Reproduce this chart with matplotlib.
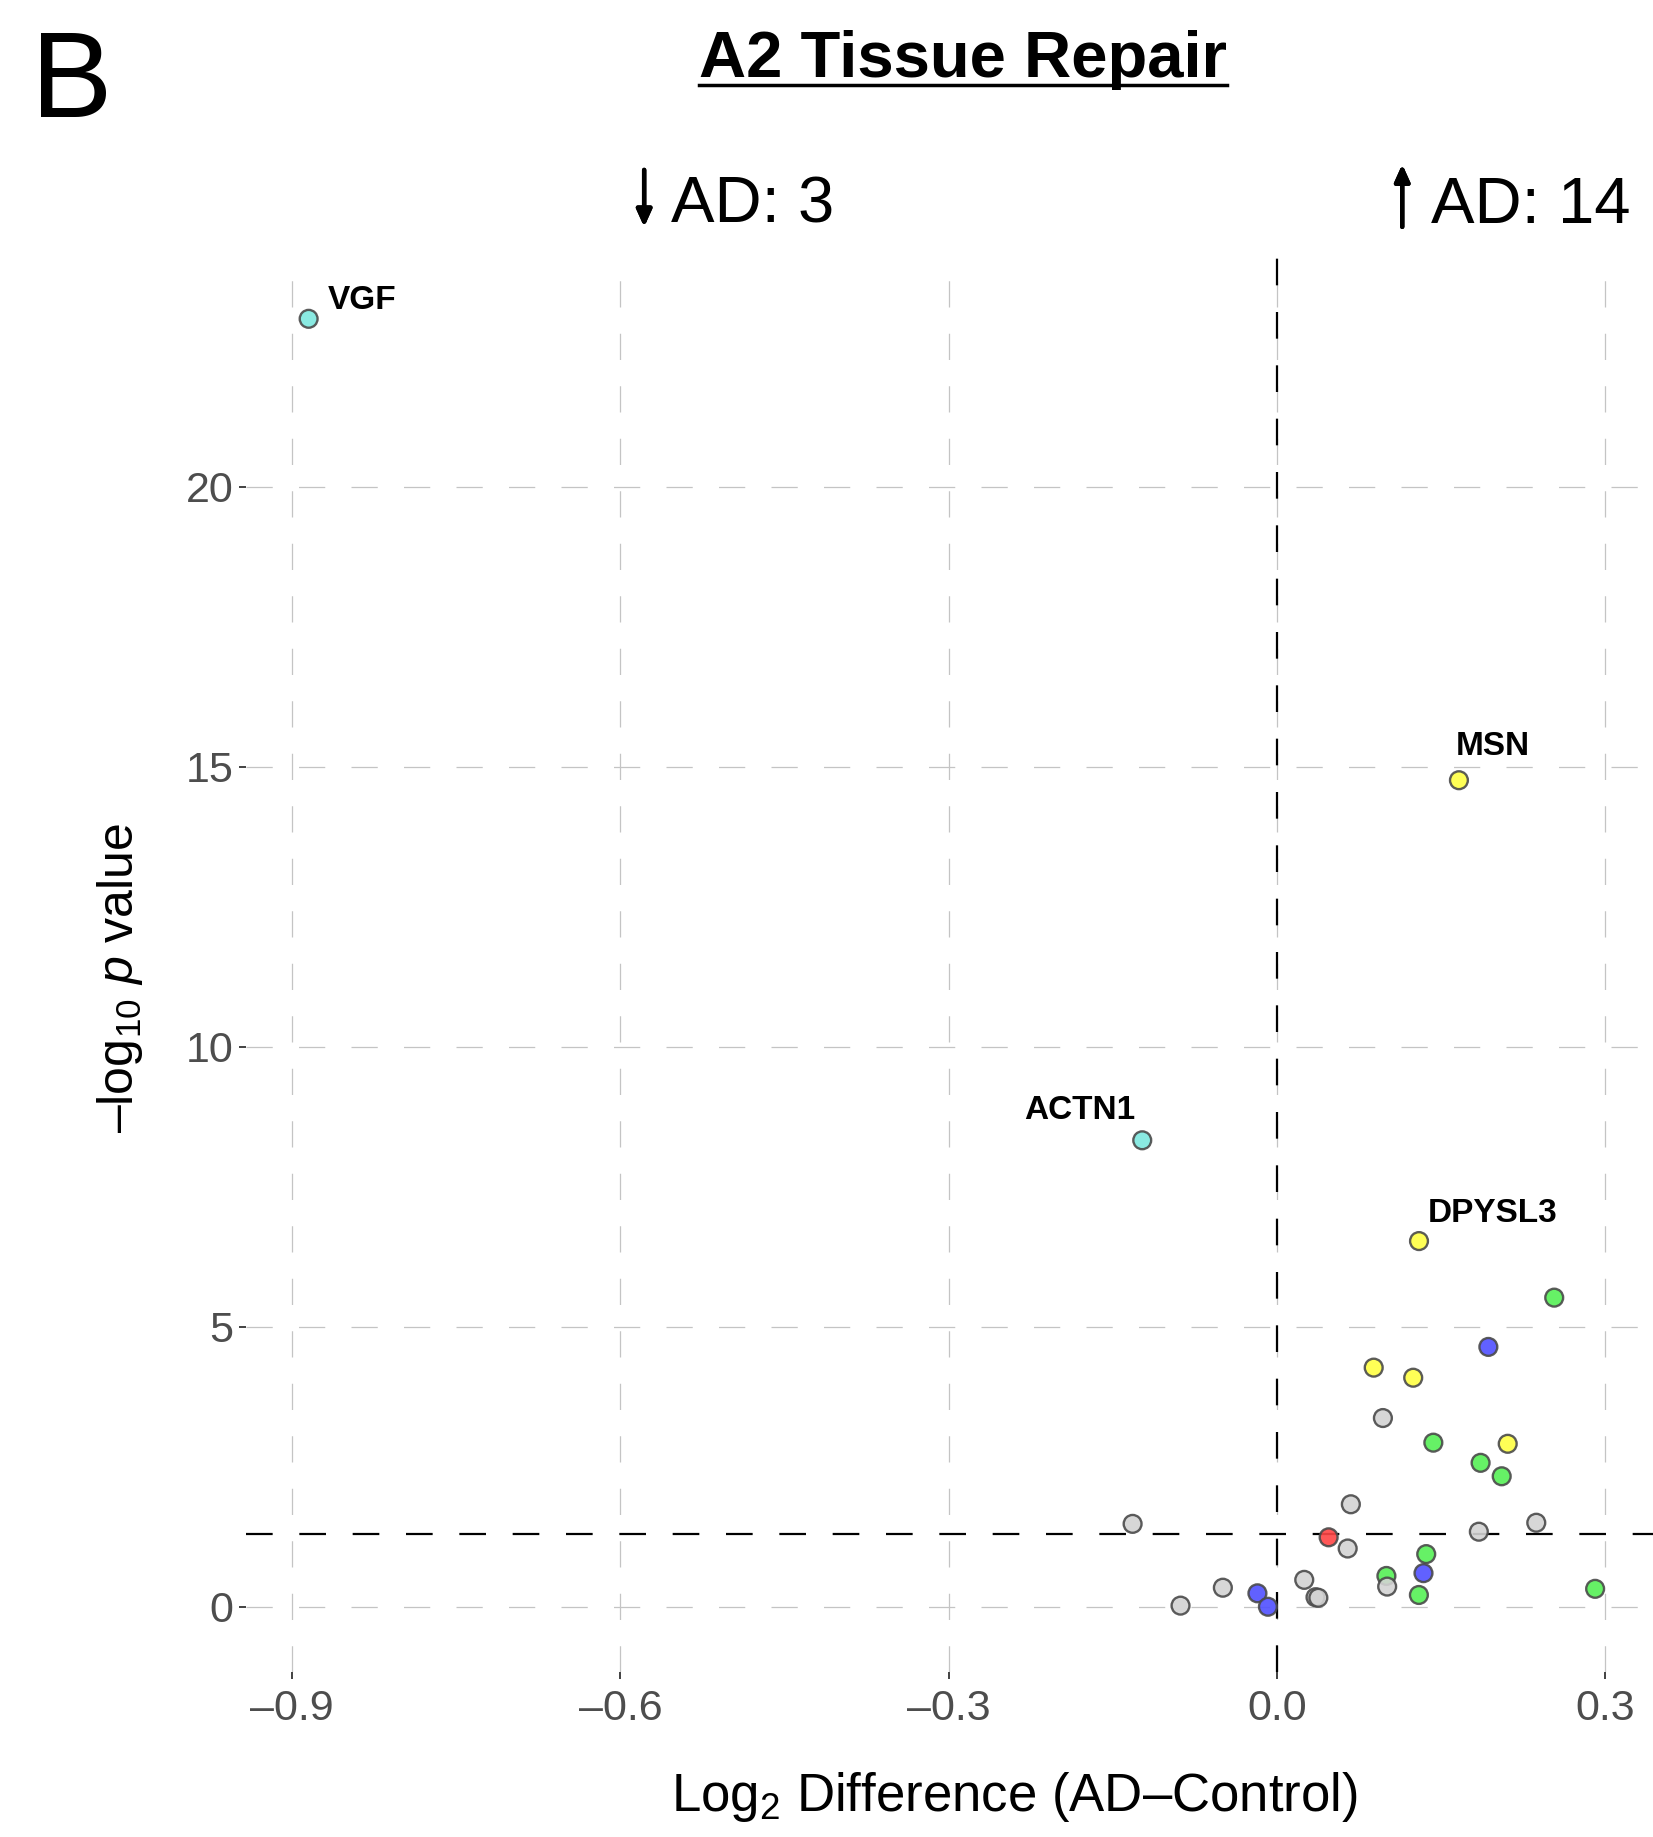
import matplotlib
matplotlib.use('Agg')
import matplotlib.pyplot as plt
from matplotlib.lines import Line2D

plt.rcParams['font.family'] = ['Liberation Sans', 'DejaVu Sans']
plt.rcParams['mathtext.fontset'] = 'custom'
plt.rcParams['mathtext.rm'] = 'Liberation Sans'
plt.rcParams['mathtext.it'] = 'Liberation Sans:italic'

# данные: log2 разница и -log10 p
genes = ['VGF', 'ACTN1', 'MSN', 'DPYSL3']
gene_x = [-0.885, -0.123, 0.1665, 0.130]
gene_y = [23.0, 8.33, 14.76, 6.53]
gene_col = ['#7de8df', '#7de8df', '#ffff44', '#ffff44']

x_vals = [0.2536, 0.1934, 0.0886, 0.1247, 0.097, 0.1431, 0.2111, 0.1863, 0.2056,
          0.0677, -0.1318, 0.2372, 0.1847, 0.0474, 0.0648, 0.1366, 0.1341, 0.1002,
          0.1009, 0.1299, 0.291, -0.0493, -0.088, -0.0177, -0.0081, 0.0251, 0.0354, 0.038]
y_vals = [5.52, 4.64, 4.27, 4.09, 3.37, 2.93, 2.91, 2.57, 2.33,
          1.83, 1.48, 1.50, 1.34, 1.24, 1.04, 0.94, 0.60, 0.55,
          0.36, 0.21, 0.32, 0.34, 0.02, 0.24, 0.0, 0.48, 0.17, 0.16]
groups = ['green', 'blue', 'yellow', 'yellow', 'gray', 'green', 'yellow', 'green', 'green',
          'gray', 'gray', 'gray', 'gray', 'red', 'gray', 'green', 'blue', 'green',
          'gray', 'green', 'green', 'gray', 'gray', 'blue', 'blue', 'gray', 'gray', 'gray']
palette = {'green': '#55f055', 'blue': '#5050ff', 'yellow': '#ffff44',
           'red': '#ff4545', 'gray': '#d3d3d3'}

x_ticks = [-0.9, -0.6, -0.3, 0.0, 0.3]
y_ticks = [0, 5, 10, 15, 20]
n_down = 3
n_up = 14

fig = plt.figure(figsize=(16.53, 18.37), dpi=100)
ax = fig.add_axes([0.1488, 0.0898, 0.8512, 0.7714])

ax.set_xlim(-0.9423, 0.3439)
ax.set_ylim(-1.166, 24.14)

for s in ax.spines.values():
    s.set_visible(False)

ax.set_xticks(x_ticks)
ax.set_xticklabels([f'{v:.1f}'.replace('-', '\u2013') for v in x_ticks])
ax.set_yticks(y_ticks)
ax.tick_params(axis='both', colors='#333333', labelcolor='#4d4d4d', labelsize=31,
               length=5, width=1.3)
ax.tick_params(axis='x', pad=7)
ax.tick_params(axis='y', pad=4)

ax.grid(True, color='#c4c4c4', linewidth=0.9, linestyle=(0, (21, 21)))
ax.set_axisbelow(True)

# пороговые линии
ax.axhline(1.301, color='black', linewidth=1.6, linestyle=(0, (12, 12)), zorder=1)
ax.axvline(0.0, color='black', linewidth=1.6, linestyle=(0, (12, 12)), zorder=1)

ax.scatter(x_vals, y_vals, s=165, c=[palette[g] for g in groups],
           edgecolors='#4a4a4a', linewidths=1.7, alpha=0.9, zorder=3)
ax.scatter(gene_x, gene_y, s=165, c=gene_col,
           edgecolors='#4a4a4a', linewidths=1.7, alpha=0.9, zorder=3)

offsets = {'VGF': (14, 7, 'left'), 'ACTN1': (-5, 15, 'right'),
           'MSN': (-2, 18, 'left'), 'DPYSL3': (6, 14, 'left')}
for g, xx, yy in zip(genes, gene_x, gene_y):
    dx, dy, ha = offsets[g]
    ax.annotate(g, (xx, yy), xytext=(dx, dy), textcoords='offset points',
                ha=ha, va='baseline', fontsize=24, fontweight='bold', zorder=4)

ax.set_xlabel(r'$\mathrm{Log}_2$ Difference (AD' + '\u2013' + 'Control)', fontsize=38)
ax.xaxis.set_label_coords(0.546, -0.069)
ax.set_ylabel(r'$\mathrm{\u2013log}_{10}$ $\mathit{p}$ value'.replace('\\u2013', '\u2013'),
              fontsize=36)
ax.yaxis.set_label_coords(-0.072, 0.49)

fig.text(0.019, 0.9363, 'B', fontsize=88, ha='left', va='baseline')
title = fig.text(0.5826, 0.958, 'A2 Tissue Repair', fontsize=47, fontweight='bold',
                 ha='center', va='baseline')
fig.text(0.4062, 0.8788, 'AD: ' + str(n_down), fontsize=47, ha='left', va='baseline')
fig.text(0.8655, 0.8788, 'AD: ' + str(n_up), fontsize=47, ha='left', va='baseline')

# стрелки вниз/вверх
arr = dict(arrowstyle='-|>,head_length=1.0,head_width=0.45', color='black', lw=3.2,
           shrinkA=0, shrinkB=0)
fig.add_artist(plt.annotate('', xy=(0.3897, 0.8765), xytext=(0.3897, 0.9075),
                            xycoords='figure fraction', arrowprops=arr))
fig.add_artist(plt.annotate('', xy=(0.8483, 0.9105), xytext=(0.8483, 0.8765),
                            xycoords='figure fraction', arrowprops=arr))

# подчеркивание заголовка
fig.canvas.draw()
bb = title.get_window_extent().transformed(fig.transFigure.inverted())
fig.add_artist(Line2D([bb.x0, bb.x1], [0.9535, 0.9535], color='black', linewidth=2.5,
                      transform=fig.transFigure))

fig.savefig('out.png', dpi=100)
